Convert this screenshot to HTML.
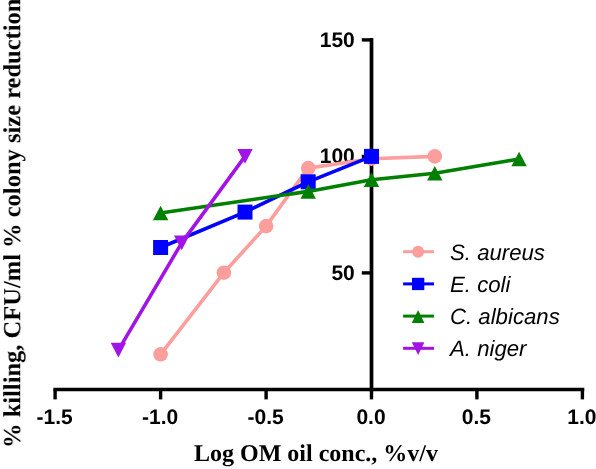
<!DOCTYPE html>
<html><head><meta charset="utf-8"><title>chart</title>
<style>
html,body{margin:0;padding:0;background:#fff;overflow:hidden}
svg{display:block}
text{font-family:"Liberation Sans",sans-serif;fill:#000;text-rendering:geometricPrecision}
.tk{font-weight:bold;font-size:21px}
.lg{font-style:italic;font-size:22.2px}
.ti{font-family:"Liberation Serif",serif;font-weight:bold;font-size:24px}
</style></head><body>
<svg width="596" height="469" viewBox="0 0 596 469">
<rect width="596" height="469" fill="#fff"/>
<g style="isolation:isolate;mix-blend-mode:normal;will-change:opacity">
<g stroke="#000" stroke-width="3.7" fill="none" stroke-linecap="butt">
<line x1="371.5" y1="38" x2="371.5" y2="391.4"/>
<line x1="53.4" y1="389.5" x2="584.3" y2="389.5"/>
<line x1="361.8" y1="39.9" x2="371.5" y2="39.9" stroke-width="3.4"/>
<line x1="361.8" y1="156.4" x2="371.5" y2="156.4" stroke-width="3.4"/>
<line x1="361.8" y1="272.9" x2="371.5" y2="272.9" stroke-width="3.4"/>
<line x1="55.1" y1="389.5" x2="55.1" y2="399.4" stroke-width="3.4"/>
<line x1="160.6" y1="389.5" x2="160.6" y2="399.4" stroke-width="3.4"/>
<line x1="266.1" y1="389.5" x2="266.1" y2="399.4" stroke-width="3.4"/>
<line x1="371.5" y1="389.5" x2="371.5" y2="399.4" stroke-width="3.4"/>
<line x1="476.9" y1="389.5" x2="476.9" y2="399.4" stroke-width="3.4"/>
<line x1="582.4" y1="389.5" x2="582.4" y2="399.4" stroke-width="3.4"/>
</g>
<text class="tk" x="354.8" y="46.7" text-anchor="end">150</text>
<text class="tk" x="354.8" y="163.2" text-anchor="end">100</text>
<text class="tk" x="354.8" y="279.8" text-anchor="end">50</text>
<text class="tk" x="54.6" y="423.8" text-anchor="middle">-1.5</text>
<text class="tk" x="160.1" y="423.8" text-anchor="middle">-1.0</text>
<text class="tk" x="265.6" y="423.8" text-anchor="middle">-0.5</text>
<text class="tk" x="371.0" y="423.8" text-anchor="middle">0.0</text>
<text class="tk" x="476.4" y="423.8" text-anchor="middle">0.5</text>
<text class="tk" x="581.9" y="423.8" text-anchor="middle">1.0</text>
<polyline points="160.6,354.3 223.9,272.7 266.1,226.1 308.2,168.1 371.5,158.7 434.8,156.4" fill="none" stroke="#FB9E9C" stroke-width="3.6" stroke-linejoin="round"/>
<circle cx="160.6" cy="354.3" r="7.3" fill="#FB9E9C"/>
<circle cx="223.9" cy="272.7" r="7.3" fill="#FB9E9C"/>
<circle cx="266.1" cy="226.1" r="7.3" fill="#FB9E9C"/>
<circle cx="308.2" cy="168.1" r="7.3" fill="#FB9E9C"/>
<circle cx="371.5" cy="158.7" r="7.3" fill="#FB9E9C"/>
<circle cx="434.8" cy="156.4" r="7.3" fill="#FB9E9C"/>
<polyline points="160.6,247.5 245.0,212.1 308.2,181.8 371.5,156.4" fill="none" stroke="#0000FF" stroke-width="3.6" stroke-linejoin="round"/>
<rect x="153.1" y="240.0" width="15.0" height="15.0" fill="#0000FF"/>
<rect x="237.5" y="204.6" width="15.0" height="15.0" fill="#0000FF"/>
<rect x="300.7" y="174.3" width="15.0" height="15.0" fill="#0000FF"/>
<rect x="364.0" y="148.9" width="15.0" height="15.0" fill="#0000FF"/>
<polyline points="160.6,213.0 308.2,191.4 371.5,179.7 434.8,173.2 519.1,159.0" fill="none" stroke="#008000" stroke-width="3.6" stroke-linejoin="round"/>
<polygon points="160.6,205.7 168.3,220.3 152.9,220.3" fill="#008000"/>
<polygon points="308.2,184.1 315.9,198.7 300.5,198.7" fill="#008000"/>
<polygon points="371.5,172.4 379.2,187.0 363.8,187.0" fill="#008000"/>
<polygon points="434.8,165.9 442.5,180.5 427.1,180.5" fill="#008000"/>
<polygon points="519.1,151.7 526.8,166.3 511.4,166.3" fill="#008000"/>
<polyline points="118.4,350.1 181.7,242.9 245.0,156.4" fill="none" stroke="#A214E6" stroke-width="3.6" stroke-linejoin="round"/>
<polygon points="110.7,342.8 126.1,342.8 118.4,357.4" fill="#A214E6"/>
<polygon points="174.0,235.6 189.4,235.6 181.7,250.2" fill="#A214E6"/>
<polygon points="237.3,149.1 252.7,149.1 245.0,163.7" fill="#A214E6"/>
<line x1="403.1" y1="251.7" x2="434" y2="251.7" stroke="#FB9E9C" stroke-width="3"/>
<circle cx="418.1" cy="251.7" r="5.986" fill="#FB9E9C"/>
<text class="lg" x="450" y="259.5">S. aureus</text>
<line x1="403.1" y1="283.9" x2="434" y2="283.9" stroke="#0000FF" stroke-width="3"/>
<rect x="412.0" y="277.8" width="12.299999999999999" height="12.299999999999999" fill="#0000FF"/>
<text class="lg" x="450" y="291.7">E. coli</text>
<line x1="403.1" y1="316.1" x2="434" y2="316.1" stroke="#008000" stroke-width="3"/>
<polygon points="418.1,310.1 424.4,322.9 411.8,322.9" fill="#008000"/>
<text class="lg" x="450" y="323.9">C. albicans</text>
<line x1="403.1" y1="348.3" x2="434" y2="348.3" stroke="#A214E6" stroke-width="3"/>
<polygon points="411.8,342.3 424.4,342.3 418.1,355.1" fill="#A214E6"/>
<text class="lg" x="450" y="356.1">A. niger</text>
<text class="ti" x="316" y="461.2" text-anchor="middle">Log OM oil conc., %v/v</text>
<text class="ti" style="font-size:24.5px" transform="translate(20.2,448) rotate(-90)">% killing, CFU/ml % colony size reduction</text>
</g>
</svg></body></html>
